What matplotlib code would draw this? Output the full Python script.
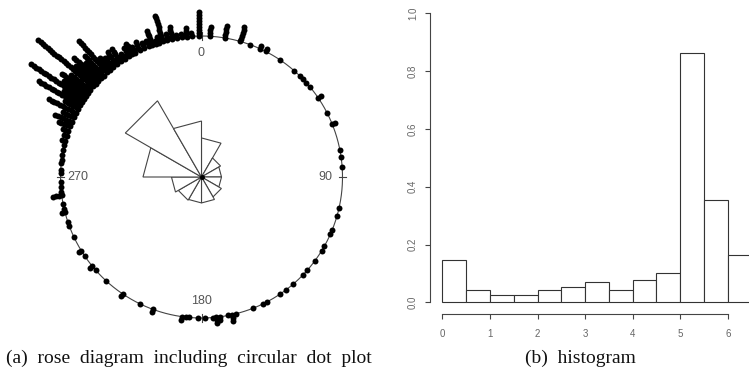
import numpy as np
import matplotlib
matplotlib.use("Agg")
import matplotlib.pyplot as plt
from matplotlib.patches import Polygon

# ---------------- data ----------------
# circular dot plot: stack positions (degrees, clockwise from north) and dot counts
dot_angles = [3.5, 9.5, 16, 20, 24.5, 27, 34, 41, 44.5, 46, 48, 50.5, 56, 63, 68, 79, 82, 86,
              102.5, 106, 112, 114, 119.5, 121.5, 126.5, 131.5, 134, 139.5, 143, 146, 152.5, 154,
              158.5, 166, 167.5, 169, 172.5, 174, 175.5, 178.5,
              181.5, 185, 186.5, 188, 200, 206, 214, 222.5, 228.5, 231, 236, 238.5, 245, 249.5,
              251.5, 255.5, 257, 259, 262.5, 264, 266, 268,
              271.5, 273, 275.5, 277, 279, 281, 283, 285, 287, 289, 291, 293, 295, 297, 299,
              300.5, 302, 303.5, 305, 306.5, 308, 310, 311.5, 313, 314.5, 316, 318, 319.5, 321,
              323, 325, 327, 329, 330.5, 332, 334, 336, 338, 339.5, 341, 342.5, 344, 346, 348,
              350, 352, 354, 356, 359]
dot_counts = [4, 5, 6, 1, 2, 2, 1, 1, 1, 1, 1, 1, 2, 1, 2, 1, 1, 1,
              1, 1, 1, 1, 1, 1, 1, 1, 1, 1, 1, 1, 1, 1,
              1, 1, 3, 1, 2, 3, 1, 1,
              1, 1, 1, 2, 2, 1, 2, 1, 1, 2, 1, 2, 1, 1,
              1, 2, 1, 1, 4, 1, 1, 1,
              1, 1, 1, 1, 1, 1, 1, 2, 2, 3, 5, 7, 5, 11, 6,
              17, 8, 22, 10, 12, 9, 25, 10, 12, 8, 10, 15, 6, 5,
              6, 6, 3, 4, 5, 3, 4, 3, 3, 6, 2, 3, 10, 3, 5,
              2, 2, 4, 2, 9]

# rose diagram: 12 bins of 30 degrees, petal radius (fraction of circle radius)
rose_bins = [0, 30, 60, 90, 120, 150, 180, 210, 240, 270, 300, 330, 360]
rose_radius = [0.277, 0.156, 0.142, 0.142, 0.163, 0.184, 0.184, 0.19, 0.213, 0.415, 0.624, 0.397]

circle_labels = ["0", "90", "180", "270"]
circle_label_angles = [0, 90, 180, 270]

# histogram (density)
hist_breaks = [0, 0.5, 1, 1.5, 2, 2.5, 3, 3.5, 4, 4.5, 5, 5.5, 6, 6.5]
hist_density = [0.145, 0.042, 0.026, 0.026, 0.042, 0.054, 0.069, 0.042, 0.076, 0.102,
                0.862, 0.353, 0.164]
x_ticks = [0, 1, 2, 3, 4, 5, 6]
y_ticks = [0.0, 0.2, 0.4, 0.6, 0.8, 1.0]
y_tick_labels = ["0.0", "0.2", "0.4", "0.6", "0.8", "1.0"]

caption_a = "(a)  rose  diagram  including  circular  dot  plot"
caption_b = "(b)  histogram"

# ---------------- figure ----------------
W, H = 749, 374
fig = plt.figure(figsize=(W / 100, H / 100), dpi=100)

# left panel: unit = circle radius
cx, cy, R = 201.5, 177.0, 141.0
panel_w = 400
ax1 = fig.add_axes([0, 0, panel_w / W, 1])
ax1.set_xlim(-cx / R, (panel_w - cx) / R)
ax1.set_ylim(-(H - cy) / R, cy / R)
ax1.axis("off")

gray = "#444444"
t = np.linspace(0, 2 * np.pi, 500)
ax1.plot(np.sin(t), np.cos(t), color=gray, lw=0.8, zorder=1)
for a in circle_label_angles:
    ar = np.radians(a)
    ax1.plot([0.975 * np.sin(ar), 1.025 * np.sin(ar)], [0.975 * np.cos(ar), 1.025 * np.cos(ar)],
             color=gray, lw=0.8, zorder=1)

sep = 3.0 / R
xs, ys = [], []
for a, c in zip(dot_angles, dot_counts):
    ar = np.radians(a)
    for k in range(c):
        r = 1 + k * sep
        xs.append(r * np.sin(ar))
        ys.append(r * np.cos(ar))
ax1.plot(xs, ys, "o", color="black", ms=4.3, mew=0, zorder=3)

for i, r in enumerate(rose_radius):
    a0, a1 = np.radians(rose_bins[i]), np.radians(rose_bins[i + 1])
    poly = Polygon([(0, 0), (r * np.sin(a0), r * np.cos(a0)), (r * np.sin(a1), r * np.cos(a1))],
                   closed=True, facecolor="white", edgecolor=gray, lw=0.8, zorder=2)
    ax1.add_patch(poly)
ax1.plot([0], [0], "o", color="black", ms=2.5, zorder=4)

for lab, a in zip(circle_labels, circle_label_angles):
    ar = np.radians(a)
    rr = 0.88
    ax1.text(rr * np.sin(ar), rr * np.cos(ar), lab, ha="center", va="center",
             fontsize=9, color="#555555", family="Liberation Sans")

fig.text(6 / W, 1 - 358 / H, caption_a, ha="left", va="center", fontsize=14,
         family="Liberation Serif", color="#111111")

# right panel: histogram (axes extends beyond the right edge like the cropped original)
x_lo, x_hi = -0.26, 6.76
y_lo, y_hi = -0.04, 1.04
left_px, right_px = 430.0, 764.0
bot_px, top_px = 314.0, 1.4
ax2 = fig.add_axes([left_px / W, 1 - bot_px / H, (right_px - left_px) / W, (bot_px - top_px) / H])
ax2.bar(hist_breaks[:-1], hist_density, width=np.diff(hist_breaks), align="edge",
        facecolor="white", edgecolor="#333333", lw=0.8)
ax2.set_xlim(x_lo, x_hi)
ax2.set_ylim(y_lo, y_hi)
ax2.patch.set_alpha(0)
for s in ["top", "right"]:
    ax2.spines[s].set_visible(False)
ax2.spines["left"].set_bounds(0, 1)
ax2.spines["bottom"].set_bounds(0, 6)
for s in ["left", "bottom"]:
    ax2.spines[s].set_color(gray)
    ax2.spines[s].set_linewidth(0.8)
ax2.set_xticks(x_ticks)
ax2.set_xticklabels([str(v) for v in x_ticks])
ax2.set_yticks(y_ticks)
ax2.set_yticklabels(y_tick_labels, rotation=90, va="center")
ax2.tick_params(axis="both", direction="out", length=3.6, width=0.8, color=gray,
                labelsize=7, labelcolor="#666666")
ax2.tick_params(axis="x", pad=7)
ax2.tick_params(axis="y", pad=5)
for lbl in ax2.get_xticklabels() + ax2.get_yticklabels():
    lbl.set_family("Liberation Sans")

fig.text(580 / W, 1 - 358 / H, caption_b, ha="center", va="center", fontsize=14,
         family="Liberation Serif", color="#111111")

fig.savefig("out.png", dpi=100)
